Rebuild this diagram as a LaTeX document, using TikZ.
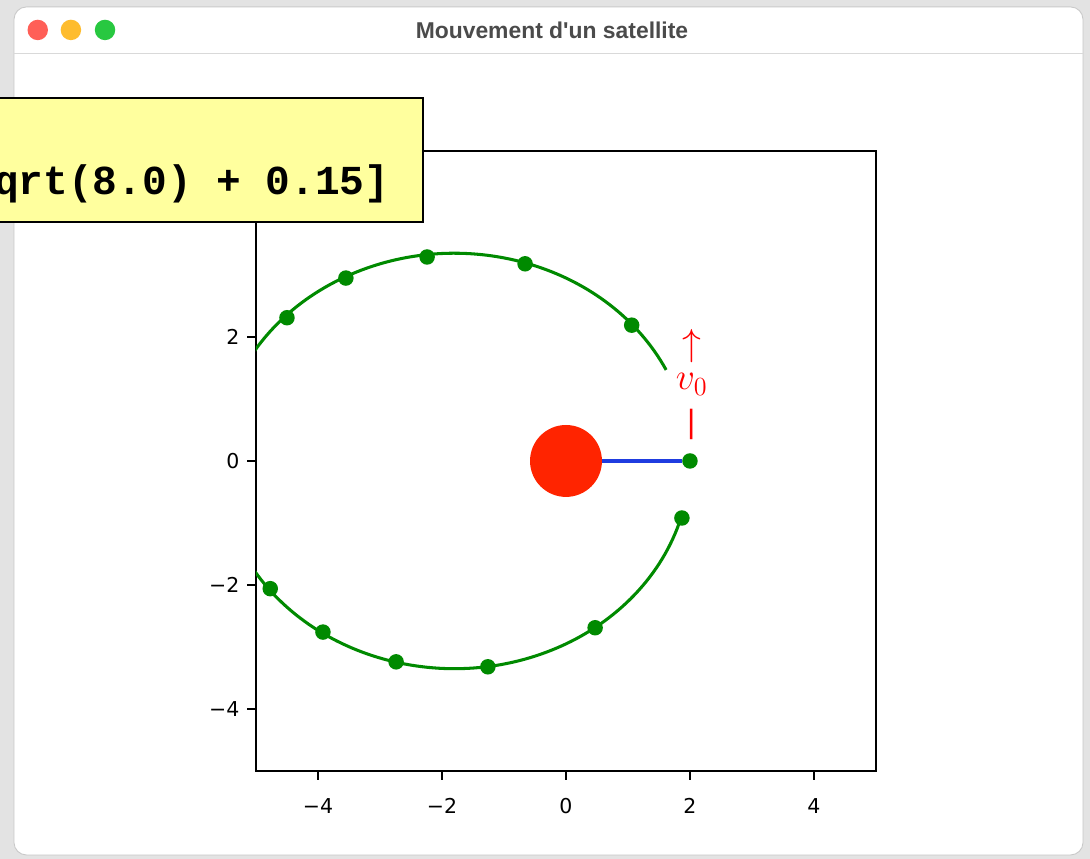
\documentclass[tikz,border=0pt]{standalone}
\usepackage{fontspec}
\setmainfont{DejaVu Sans}
\newfontfamily\titlefont{Liberation Sans}
\newfontfamily\tipfont{Liberation Mono}
\usetikzlibrary{calc}
\definecolor{ScreenGrey}{HTML}{E3E3E3}
\definecolor{WinEdge}{HTML}{C9C9C9}
\definecolor{TitleInk}{HTML}{4B4B4B}
\definecolor{LightRed}{HTML}{FF5F57}
\definecolor{LightAmber}{HTML}{FEBC2E}
\definecolor{LightGreen}{HTML}{28C840}
\definecolor{OrbitGreen}{HTML}{008A00}
\definecolor{PlanetRed}{HTML}{FF2400}
\definecolor{RayBlue}{HTML}{1F3CE0}
\definecolor{TipYellow}{HTML}{FFFF9E}

\begin{document}
\begin{tikzpicture}[x=1cm,y=1cm,
  light/.style={circle,inner sep=0pt,minimum size=0.33cm},
  point/.style={circle,fill=OrbitGreen,inner sep=0pt,minimum size=0.25cm},
  frame/.style={black,line width=0.7pt},
  ticklabel/.style={inner sep=0pt,font=\fontsize{9.4}{9.4}\selectfont},
  vlabel/.style={red,inner sep=0pt,font=\fontsize{16}{16}\selectfont}]
  \useasboundingbox (-9.129,-6.419) rectangle (8.452,7.435);
  % screen and window
  \fill[ScreenGrey] (-9.129,-6.419) rectangle (8.452,7.435);
  \draw[WinEdge,fill=white,rounded corners=0.2cm] (-8.903,-6.355) rectangle (8.339,7.323);
  \draw[WinEdge!70] (-8.903,6.581) -- (8.339,6.581);
  \node[light,fill=LightRed] (feu1) at (-8.520,6.952) {};
  \node[light,fill=LightAmber] (feu2) at (-7.985,6.952) {};
  \node[light,fill=LightGreen] (feu3) at (-7.435,6.952) {};
  \node[TitleInk,font=\titlefont\bfseries\fontsize{10.5}{11}\selectfont] (titre) at (-0.226,6.952) {Mouvement d'un satellite};
  % axes
  \draw[frame] (-5,-5) rectangle (5,5);
  \foreach \t/\s in {-4/−4,-2/−2,0/0,2/2,4/4} {
    \draw[frame] (\t,-5) -- (\t,-5.14);
    \node[ticklabel,anchor=north] (xt\t) at (\t,-5.44) {\s};
    \draw[frame] (-5,\t) -- (-5.14,\t);
    \node[ticklabel,anchor=east] (yt\t) at (-5.26,\t) {\s};
  }
  % orbit
  \begin{scope}
    \clip (-5,-5) rectangle (5,5);
    \draw[OrbitGreen,line width=1.4pt] ($(-1.8,0)+(26:3.8 and 3.35)$)
      arc[start angle=26,end angle=344,x radius=3.8,y radius=3.35];
  \end{scope}
  \foreach \p [count=\i] in {(1.06,2.19),(-0.66,3.18),(-2.24,3.29),(-3.55,2.95),
      (-4.50,2.31),(-4.77,-2.06),(-3.92,-2.76),(-2.74,-3.24),(-1.26,-3.32),
      (0.47,-2.69),(1.87,-0.92)}
    \node[point] (p\i) at \p {};
  \node[circle,fill=PlanetRed,inner sep=0pt,minimum size=1.16cm] (terre) at (0,0) {};
  \node[point] (sat) at (2,0) {};
  \draw[RayBlue,line width=1.6pt] (terre) -- (sat);
  \node[vlabel] (fleche) at (2.03,1.85) {$\uparrow$};
  \node[vlabel,font=\fontsize{17}{17}\selectfont] (vzero) at (2.03,1.24) {$v_0$};
  \node[vlabel,font=\fontsize{14}{14}\selectfont] (barre) at (2.03,0.59) {|};
  % tooltip
  \draw[fill=TipYellow,line width=0.9pt] (-9.4,3.855) rectangle (-2.306,5.855);
  \node[anchor=base east,inner sep=0pt,font=\tipfont\bfseries\fontsize{18.9}{19}\selectfont] (bulle) at (-2.84,4.30) {qrt(8.0) + 0.15]};
\end{tikzpicture}
\end{document}
